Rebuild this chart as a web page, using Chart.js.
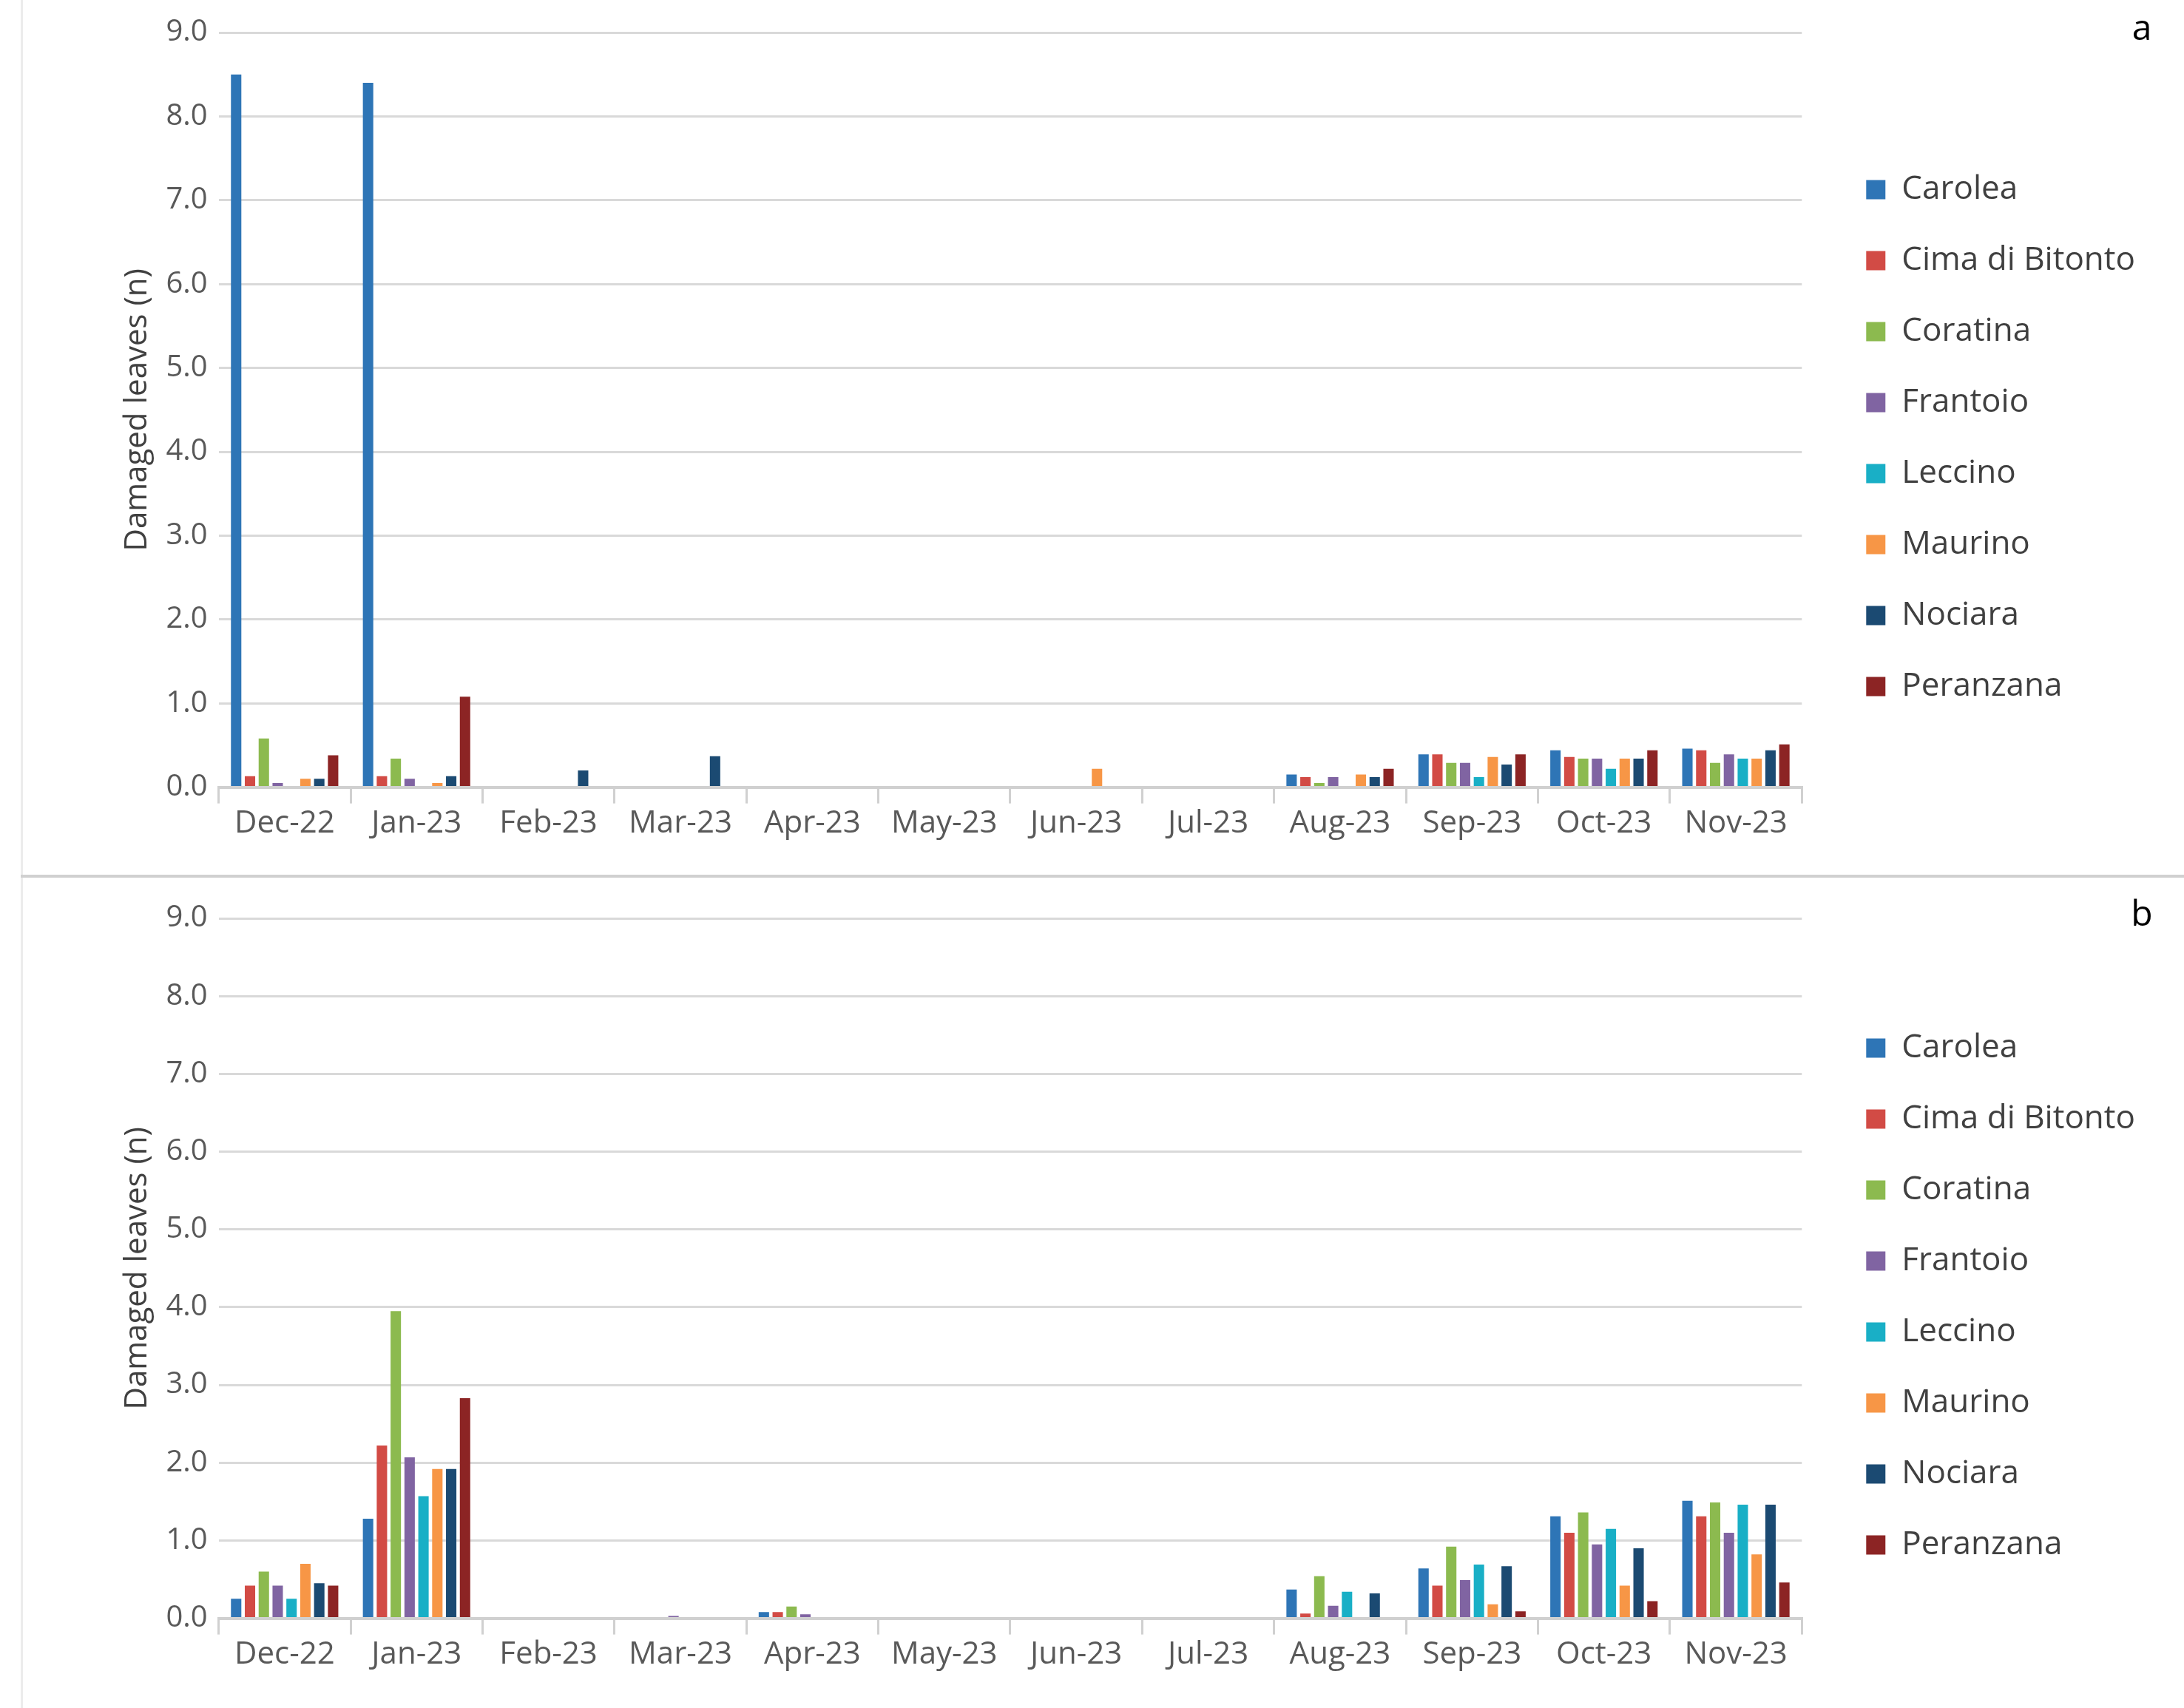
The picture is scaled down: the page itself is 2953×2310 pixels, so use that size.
<!DOCTYPE html>
<html><head><meta charset="utf-8">
<script src="https://cdn.jsdelivr.net/npm/chart.js@4"></script>
<style>
body{margin:0;background:#fff;width:2953px;height:2310px;overflow:hidden;position:relative;font-family:"Open Sans",sans-serif}
.box{position:absolute;left:0;width:2953px}
#sep{position:absolute;left:28px;width:2925px;top:1183px;height:4px;background:#d0d0d0}
#vl{position:absolute;left:28px;top:0;width:3px;height:2310px;background:#ececec}
</style></head><body>
<div id="vl"></div>
<div class="box" style="top:0;height:1180px"><canvas id="ca"></canvas></div>
<div id="sep"></div>
<div class="box" style="top:1190px;height:1120px"><canvas id="cb"></canvas></div>
<script>
const months=["Dec-22","Jan-23","Feb-23","Mar-23","Apr-23","May-23","Jun-23","Jul-23","Aug-23","Sep-23","Oct-23","Nov-23"];
const cultivars=["Carolea","Cima di Bitonto","Coratina","Frantoio","Leccino","Maurino","Nociara","Peranzana"];
const colors=["#2e75b6","#d24b45","#8cba4f","#8064a2","#19afc6","#f79646","#1b4a72","#8c2424"];
const yTicks=[0,1,2,3,4,5,6,7,8,9];
// Panel a
const aCarolea=[8.5,8.4,0,0,0,0,0,0,0.15,0.39,0.44,0.46];
const aCima=[0.13,0.13,0,0,0,0,0,0,0.12,0.39,0.36,0.44];
const aCoratina=[0.58,0.34,0,0,0,0,0,0,0.05,0.29,0.34,0.29];
const aFrantoio=[0.05,0.1,0,0,0,0,0,0,0.12,0.29,0.34,0.39];
const aLeccino=[0,0,0,0,0,0,0,0,0,0.12,0.22,0.34];
const aMaurino=[0.1,0.05,0,0,0,0,0.22,0,0.15,0.36,0.34,0.34];
const aNociara=[0.1,0.13,0.2,0.37,0,0,0,0,0.12,0.27,0.34,0.44];
const aPeranzana=[0.38,1.08,0,0,0,0,0,0,0.22,0.39,0.44,0.51];
// Panel b
const bCarolea=[0.25,1.28,0,0,0.08,0,0,0,0.37,0.64,1.31,1.51];
const bCima=[0.42,2.22,0,0,0.08,0,0,0,0.06,0.42,1.1,1.31];
const bCoratina=[0.6,3.95,0,0,0.15,0,0,0,0.54,0.92,1.36,1.49];
const bFrantoio=[0.42,2.07,0,0.03,0.05,0,0,0,0.16,0.49,0.95,1.1];
const bLeccino=[0.25,1.57,0,0,0,0,0,0,0.34,0.69,1.15,1.46];
const bMaurino=[0.7,1.92,0,0,0,0,0,0,0,0.18,0.42,0.82];
const bNociara=[0.45,1.92,0,0,0,0,0,0,0.32,0.67,0.9,1.46];
const bPeranzana=[0.42,2.83,0,0,0,0,0,0,0,0.09,0.22,0.46];
const seriesA=[aCarolea,aCima,aCoratina,aFrantoio,aLeccino,aMaurino,aNociara,aPeranzana];
const seriesB=[bCarolea,bCima,bCoratina,bFrantoio,bLeccino,bMaurino,bNociara,bPeranzana];

Chart.defaults.font.family='"Open Sans", sans-serif';
Chart.defaults.color='#595959';

function make(id,series,letter,padTop,padBottom){
  const letterPlugin={id:'letter',afterDraw(c){const x=c.ctx;x.save();x.fillStyle='#000';x.font='48px "Open Sans"';x.textAlign='center';x.textBaseline='middle';x.fillText(letter,2896,Math.max(padTop-4,40));x.restore();}};
  return new Chart(document.getElementById(id),{
    type:'bar',
    data:{labels:months,datasets:series.map((d,i)=>({label:cultivars[i],data:d,backgroundColor:colors[i],borderWidth:0,categoryPercentage:0.84,barPercentage:0.75}))},
    options:{responsive:true,maintainAspectRatio:false,animation:false,
      layout:{padding:{top:padTop,bottom:padBottom,right:56,left:151}},
      plugins:{tooltip:{enabled:false},
        legend:{position:'right',align:'center',labels:{boxWidth:26,boxHeight:26,padding:52,font:{size:44},color:'#404040'}}},
      scales:{
        x:{grid:{offset:true,drawOnChartArea:false,color:'#d0d0d0',lineWidth:3,tickLength:22,tickColor:'#d0d0d0'},border:{color:'#d0d0d0',width:4},
           ticks:{font:{size:42},color:'#595959',padding:2,maxRotation:0}},
        y:{min:0,max:9,afterBuildTicks(s){s.ticks=yTicks.map(v=>({value:v}));},
           grid:{color:'#d9d9d9',lineWidth:3,drawTicks:true,tickLength:12,tickColor:'#fff'},border:{display:false},
           ticks:{font:{size:40},color:'#595959',callback:v=>Number(v).toFixed(1)},
           title:{display:true,text:'Damaged leaves (n)',font:{size:42},color:'#404040',padding:10}},
        gap:{position:'right',display:true,grid:{display:false},border:{display:false},ticks:{display:false},
           afterFit(s){s.width=35;}}
      }},
    plugins:[letterPlugin]
  });
}
make('ca',seriesA,'a',44,39);
make('cb',seriesB,'b',52,45);
</script></body></html>
